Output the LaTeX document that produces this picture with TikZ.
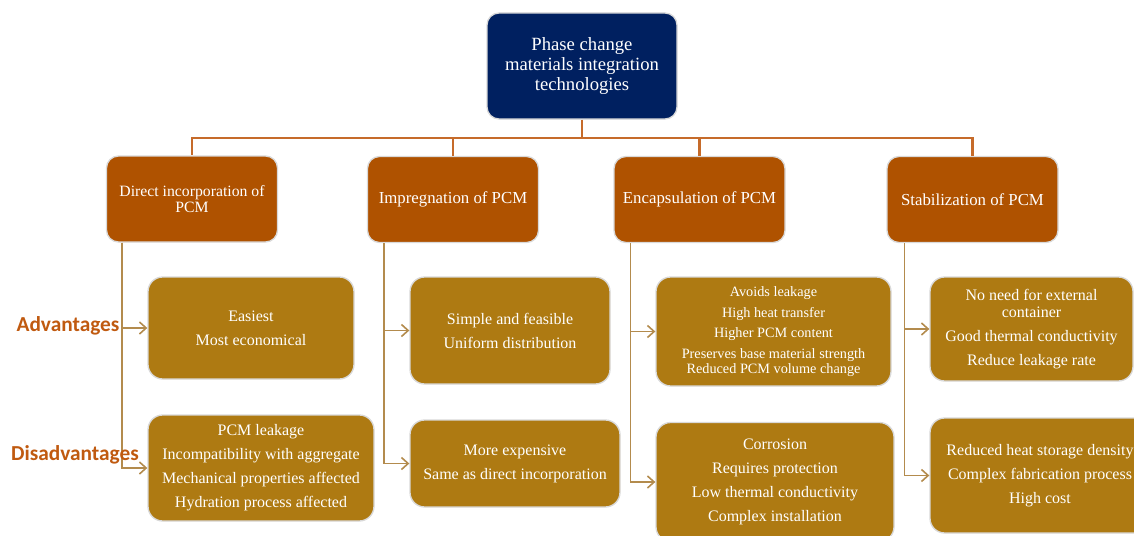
\documentclass[tikz,border=0pt]{standalone}
\usepackage{fontspec}
\setmainfont{Liberation Serif}
\newfontfamily\calibrifont{Carlito}
\usepackage{tikz}
\usetikzlibrary{arrows.meta,calc}
\definecolor{navyhead}{HTML}{002060}
\definecolor{rustbox}{HTML}{AF5200}
\definecolor{goldbox}{HTML}{AE7A12}
\definecolor{trunkline}{HTML}{C66B2A}
\definecolor{branchline}{HTML}{B38B4D}
\definecolor{sidelabel}{HTML}{C05A10}
\tikzset{
  headbox/.style={draw=black!15, line width=1pt, rounded corners=9pt, fill=navyhead, text=white, align=center, inner sep=0pt, minimum width=142.5pt, minimum height=79.5pt, font=\fontsize{14}{15}\selectfont},
  methodbox/.style={draw=black!15, line width=1pt, rounded corners=9pt, fill=rustbox, text=white, align=center, inner sep=0pt, minimum width=128.25pt, minimum height=64.5pt, font=\fontsize{12.6}{12.6}\selectfont},
  infobox/.style={draw=black!15, line width=1pt, rounded corners=11pt, fill=goldbox, text=white, align=center, inner sep=0pt, font=\fontsize{12}{18}\selectfont},
  trunk/.style={trunkline, line width=1.7pt},
  branch/.style={branchline, line width=1.2pt, -{Straight Barb[length=5pt,width=9pt]}},
  sidetext/.style={text=sidelabel, font=\calibrifont\bfseries\fontsize{16}{16}\selectfont}
}

\begin{document}
\begin{tikzpicture}[x=0.75pt,y=-0.75pt]
  \useasboundingbox (0,0) rectangle (1134,535);
  \clip (0,0) rectangle (1134,535);

  \node[headbox] (head) at (582,66) {Phase change\\materials integration\\technologies};

  % the four methods
  \node[methodbox, font=\fontsize{11.8}{11.5}\selectfont] (direct) at (192,199) {Direct incorporation of\\PCM};
  \node[methodbox] (impreg) at (453,199.5) {Impregnation of PCM};
  \node[methodbox] (encaps) at (699.5,199.5) {Encapsulation of PCM};
  \node[methodbox] (stabil) at (972.5,199.5) {Stabilization of PCM};

  \coordinate (bus) at (582,138);
  \draw[trunk] (head.south) -- (bus);
  \foreach \m in {direct,impreg,encaps,stabil}
    \draw[trunk] (bus) -| (\m.north);

  % advantages row
  \node[infobox, minimum width=154.5pt, minimum height=76.5pt] (advdirect) at (251,328) {Easiest\\Most economical};
  \node[infobox, minimum width=150pt, minimum height=80.25pt] (advimpreg) at (510,330.5) {Simple and feasible\\Uniform distribution};
  \node[infobox, minimum width=176.25pt, minimum height=81.75pt, font=\fontsize{10.7}{15.5}\selectfont] (advencaps) at (773.5,331.5)
    {Avoids leakage\\High heat transfer\\Higher PCM content\\Preserves base material strength\\[-4.5pt]Reduced PCM volume change};
  \node[infobox, minimum width=152.25pt, minimum height=78pt] (advstabil) at (1031.5,329)
    {No need for external\\[-4.8pt]container\\Good thermal conductivity\\Reduce leakage rate};

  % disadvantages row
  \node[infobox, minimum width=169.5pt, minimum height=79.5pt] (disdirect) at (261,468)
    {PCM leakage\\Incompatibility with aggregate\\Mechanical properties affected\\Hydration process affected};
  \node[infobox, minimum width=157.5pt, minimum height=65.25pt] (disimpreg) at (515,463.5) {More expensive\\Same as direct incorporation};
  \node[infobox, minimum width=178.5pt, minimum height=89.25pt] (disencaps) at (775,482)
    {Corrosion\\Requires protection\\Low thermal conductivity\\Complex installation};
  \node[infobox, minimum width=165pt, minimum height=86.25pt] (disstabil) at (1040,475.5)
    {Reduced heat storage density\\Complex fabrication process\\High cost};

  % side branches
  \draw[branch] ($(direct.south west)+(16,0)$) |- (advdirect.west);
  \draw[branch] ($(direct.south west)+(16,0)$) |- (disdirect.west);
  \draw[branch] ($(impreg.south west)+(17,0)$) |- (advimpreg.west);
  \draw[branch] ($(impreg.south west)+(17,0)$) |- (disimpreg.west);
  \draw[branch] ($(encaps.south west)+(17,0)$) |- (advencaps.west);
  \draw[branch] ($(encaps.south west)+(17,0)$) |- (disencaps.west);
  \draw[branch] ($(stabil.south west)+(18,0)$) |- (advstabil.west);
  \draw[branch] ($(stabil.south west)+(18,0)$) |- (disstabil.west);

  \node[sidetext] (advlabel) at (68,326) {Advantages};
  \node[sidetext] (dislabel) at (75,455) {Disadvantages};
\end{tikzpicture}
\end{document}
